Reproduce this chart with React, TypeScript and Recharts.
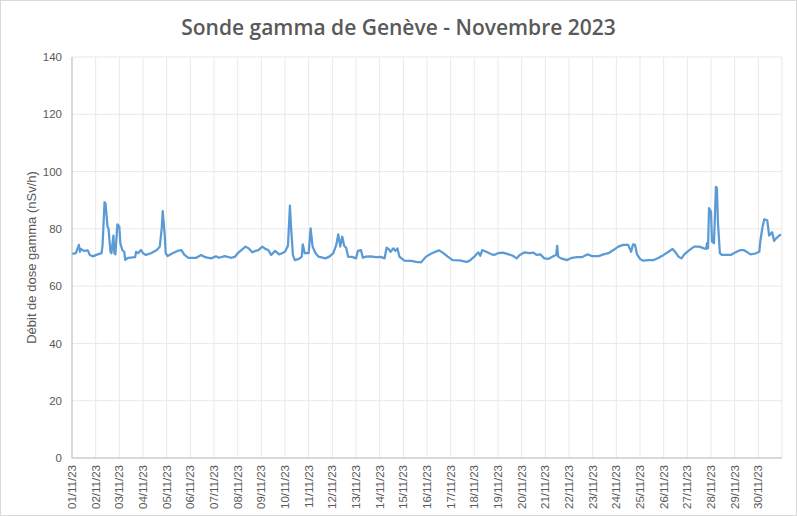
import React from 'react';
import { LineChart, Line, XAxis, YAxis, CartesianGrid } from 'recharts';

// Hours elapsed since 01/11/2023 00:00
const hours = [
  0, 4, 5, 7, 8, 9, 12, 16, 18, 21, 26, 30, 31, 33, 34, 36, 37, 39, 40, 42, 43, 44, 46, 48, 49, 51, 53, 54, 57, 64,
  65, 67, 70, 72, 75, 80, 86, 89, 91, 92, 94, 95, 97, 102, 107, 111, 114, 118, 126, 131, 135, 141, 146,
  149, 155, 161, 165, 169, 176, 179, 183, 186, 189, 193, 196, 199, 202, 206, 210, 213, 216, 219, 221, 222, 224,
  226, 230, 233, 234, 236, 240, 242, 244, 247, 250, 257, 261, 265, 268, 270, 272, 274, 276, 278, 280, 284, 288,
  290, 293, 295,
  298, 303, 308, 313, 317, 319, 321, 323, 326, 328, 330, 332, 337, 344, 349, 354, 359, 365, 372, 376, 381, 386,
  393, 400, 403, 408, 412, 414, 416, 420, 425, 428, 432, 437,
  442, 447, 451, 454, 459, 464, 468, 471, 475, 479, 483, 488, 491, 492, 493, 496, 502, 507, 512, 517, 523, 527,
  534, 539, 544, 549, 554, 559, 564, 567, 569, 571, 573, 576, 579,
  585, 590, 595, 600, 605, 609, 612, 615, 618, 621, 626, 631, 636, 641, 643, 644, 645, 646, 648, 649, 651, 653,
  654, 655, 657, 659, 664, 668, 673, 678, 681, 685, 688, 693, 697, 698, 700, 702, 705, 707, 708, 710, 712, 714,
  717, 719,
];

// Débit de dose gamma (nSv/h)
const doseRate = [
  71.3, 71.5, 72.6, 74.4, 72.0, 73.0, 72.3, 72.5, 70.9, 70.4, 71.1, 71.5, 74.4, 89.3, 88.9, 80.8, 80.2, 72.0, 71.5, 77.6, 71.5, 71.1, 81.6, 80.8, 75.0, 72.6, 72.0, 69.2, 69.9, 70.1,
  72.0, 71.5, 72.6, 71.5, 70.9, 71.5, 72.6, 73.8, 80.2, 86.2, 77.9, 71.5, 70.5, 71.5, 72.3, 72.6, 70.9, 69.9, 69.9, 70.9, 70.1, 69.7, 70.4,
  69.9, 70.5, 69.9, 70.2, 71.8, 73.8, 73.2, 71.8, 72.3, 72.6, 73.8, 73.0, 72.6, 70.9, 72.3, 71.1, 71.5, 72.0, 74.1, 88.1, 81.4, 70.9,
  69.1, 69.5, 70.3, 74.6, 71.5, 71.5, 80.2, 73.8, 71.5, 70.3, 69.7, 70.3, 71.5, 74.4, 78.1, 73.8, 77.3, 74.1, 73.4, 70.3, 70.2, 69.7,
  72.3, 72.6, 69.9,
  70.3, 70.4, 70.1, 70.2, 69.7, 73.4, 73.0, 72.0, 73.2, 72.3, 73.2, 70.3, 68.9, 68.8, 68.5, 68.3, 70.3, 71.5, 72.5, 71.7, 70.3, 69.1,
  69.0, 68.5, 68.8, 70.3, 71.8, 70.6, 72.6, 72.0, 71.2, 70.9, 71.5, 71.7,
  71.2, 70.6, 69.7, 70.9, 71.8, 71.5, 71.7, 70.9, 71.1, 69.7, 69.5, 70.4, 70.9, 74.1, 70.3, 69.7, 69.1, 69.9, 70.1, 70.1, 71.1, 70.5,
  70.5, 71.1, 71.5, 72.6, 73.8, 74.4, 74.4, 72.0, 74.6, 74.4, 71.1, 69.5, 68.9,
  69.1, 69.1, 69.9, 70.9, 72.0, 73.0, 71.8, 70.3, 69.7, 71.1, 72.6, 73.8, 73.8, 73.2, 73.0, 75.0, 73.2, 87.2, 86.0, 75.6, 75.0, 94.7,
  94.2, 82.5, 71.5, 70.9, 70.9, 70.9, 71.8, 72.6, 72.6, 71.8, 71.1, 71.4, 72.0, 75.6, 80.2, 83.3, 83.0, 77.6, 78.1, 78.8, 75.8, 76.7,
  77.6, 78.1,
];

const dayTicks = [
  0, 24, 48, 72, 96, 120, 144, 168, 192, 216, 240, 264, 288, 312, 336, 360, 384, 408, 432, 456, 480, 504, 528, 552,
  576, 600, 624, 648, 672, 696,
];

const dayLabels = [
  '01/11/23', '02/11/23', '03/11/23', '04/11/23', '05/11/23', '06/11/23', '07/11/23', '08/11/23', '09/11/23', '10/11/23',
  '11/11/23', '12/11/23', '13/11/23', '14/11/23', '15/11/23', '16/11/23', '17/11/23', '18/11/23', '19/11/23', '20/11/23',
  '21/11/23', '22/11/23', '23/11/23', '24/11/23', '25/11/23', '26/11/23', '27/11/23', '28/11/23', '29/11/23', '30/11/23',
];

const yTicks = [0, 20, 40, 60, 80, 100, 120, 140];

const TITLE = 'Sonde gamma de Genève - Novembre 2023';
const Y_LABEL = 'Débit de dose gamma (nSv/h)';

const data = hours.map((h, i) => ({ h, v: doseRate[i] }));

const TEXT = '#595959';

const XTick = (props: any) => {
  const { x, y, payload } = props;
  const idx = dayTicks.indexOf(payload.value);
  return (
    <text
      x={x}
      y={y}
      transform={`rotate(-90, ${x}, ${y})`}
      textAnchor="end"
      dy="0.36em"
      fill={TEXT}
      fontSize={11.5}
      fontFamily="'Liberation Sans', Arial, sans-serif"
    >
      {idx >= 0 ? dayLabels[idx] : ''}
    </text>
  );
};

const YAxisTitle = (props: any) => {
  const vb = props.viewBox || {};
  const cx = 31;
  const cy = (vb.y ?? 57) + (vb.height ?? 401) / 2;
  return (
    <text
      x={cx}
      y={cy}
      transform={`rotate(-90, ${cx}, ${cy})`}
      textAnchor="middle"
      dy="0.35em"
      fill={TEXT}
      fontSize={13}
      fontFamily="'Liberation Sans', Arial, sans-serif"
    >
      {Y_LABEL}
    </text>
  );
};

export default function App() {
  return (
    <div
      style={{
        position: 'absolute',
        left: 0,
        top: 0,
        width: 797,
        height: 516,
        background: '#ffffff',
      }}
    >
      <div
        style={{
          position: 'absolute',
          left: 0,
          top: 8,
          width: 797,
          textAlign: 'center',
          fontFamily: "'Open Sans', sans-serif",
          fontWeight: 600,
          fontSize: 21,
          color: TEXT,
          lineHeight: '38px',
        }}
      >
        {TITLE}
      </div>
      <LineChart
        width={797}
        height={516}
        data={data}
        margin={{ top: 57, right: 15, bottom: 8, left: 0 }}
      >
        <CartesianGrid stroke="#e9e9e9" strokeWidth={1} />
        <XAxis
          dataKey="h"
          type="number"
          domain={[0, 720]}
          ticks={dayTicks}
          interval={0}
          height={50}
          tick={<XTick />}
          tickLine={false}
          tickMargin={1}
          axisLine={{ stroke: '#bfbfbf', strokeWidth: 1 }}
          allowDataOverflow
        />
        <YAxis
          type="number"
          domain={[0, 140]}
          ticks={yTicks}
          width={72}
          tickLine={false}
          tickMargin={4}
          axisLine={{ stroke: '#bfbfbf', strokeWidth: 1 }}
          tick={{ fill: TEXT, fontSize: 11.5, fontFamily: "'Liberation Sans', Arial, sans-serif" }}
          label={<YAxisTitle />}
        />
        <Line
          type="linear"
          dataKey="v"
          stroke="#5b9bd5"
          strokeWidth={2.25}
          strokeLinejoin="round"
          dot={false}
          activeDot={false}
          isAnimationActive={false}
        />
      </LineChart>
      <div
        style={{
          position: 'absolute',
          left: 0,
          top: 0,
          width: 797,
          height: 516,
          boxSizing: 'border-box',
          border: '1px solid #d9d9d9',
          pointerEvents: 'none',
        }}
      />
    </div>
  );
}
